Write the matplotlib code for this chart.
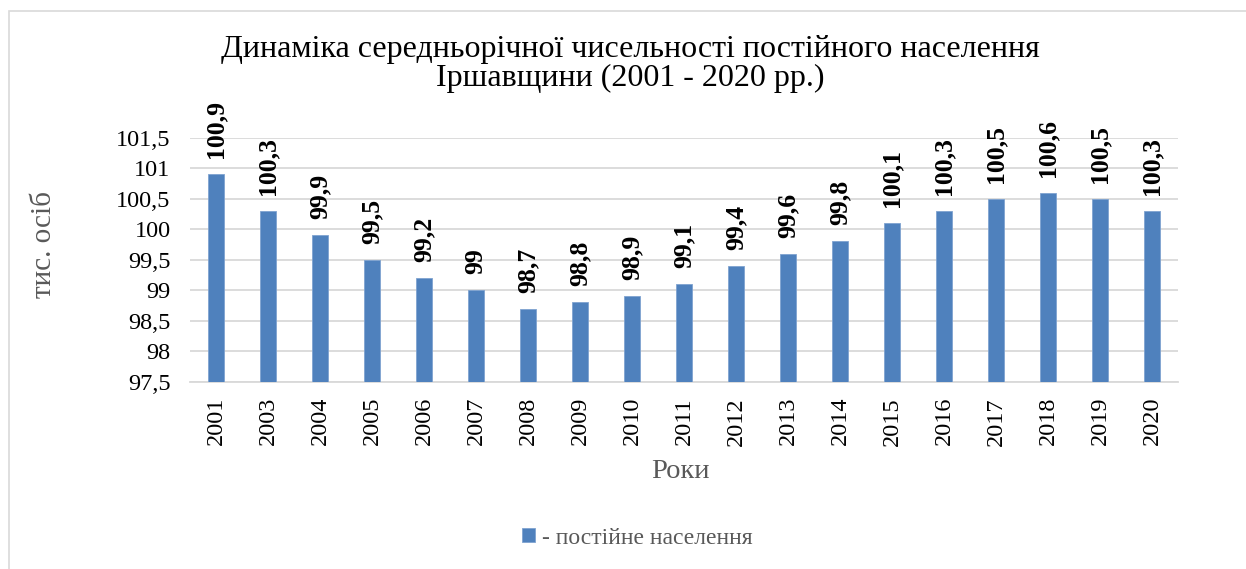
"""
Динаміка середньорічної чисельності постійного населення Іршавщини
"""
import matplotlib.pyplot as plt
from matplotlib.patches import Rectangle
from matplotlib.ticker import FuncFormatter

plt.rcParams['font.family'] = ['Liberation Serif', 'DejaVu Serif']

years = ['2001', '2003', '2004', '2005', '2006', '2007', '2008', '2009', '2010', '2011',
         '2012', '2013', '2014', '2015', '2016', '2017', '2018', '2019', '2020']
population = [100.9, 100.3, 99.9, 99.5, 99.2, 99.0, 98.7, 98.8, 98.9, 99.1,
              99.4, 99.6, 99.8, 100.1, 100.3, 100.5, 100.6, 100.5, 100.3]
y_ticks = [97.5, 98, 98.5, 99, 99.5, 100, 100.5, 101, 101.5]

BAR_COLOR = '#4F81BD'
GREY = '#595959'


def fmt_num(v):
    s = f"{v:g}"
    return s.replace('.', ',')


fig = plt.figure(figsize=(12.46, 5.69), dpi=100)
ax = fig.add_axes([190 / 1246, 1 - 381.7 / 569, (1178 - 190) / 1246, (381.7 - 137.7) / 569])

# frame around the whole chart
fig.patches.append(Rectangle((9 / 1246, -0.01), 1.02, 1 - 11 / 569 + 0.01,
                             transform=fig.transFigure, fill=False,
                             edgecolor='#D9D9D9', lw=1.2))

x = range(len(years))
bars = ax.bar(x, population, width=0.31, bottom=0, color=BAR_COLOR,
              edgecolor='#7FA3D0', lw=0.6, zorder=3)

for xi, v in zip(x, population):
    ax.annotate(fmt_num(v), (xi, v), xytext=(0, 11.5), textcoords='offset points',
                rotation=90, ha='center', va='bottom', fontsize=18.5,
                fontweight='bold', color='black', annotation_clip=False)

ax.set_ylim(97.5, 101.5)
ax.set_xlim(-0.5, len(years) - 0.5)
ax.set_yticks(y_ticks)
ax.yaxis.set_major_formatter(FuncFormatter(lambda v, p: fmt_num(v)))
ax.set_xticks(list(x))
ax.set_xticklabels(years, rotation=90)
ax.tick_params(axis='both', length=0, labelsize=17.5, colors='black')
ax.tick_params(axis='x', pad=11)
ax.tick_params(axis='y', pad=14)
ax.grid(axis='y', color='#D9D9D9', lw=1.3, zorder=0)
for sp in ['top', 'right', 'left']:
    ax.spines[sp].set_visible(False)
ax.spines['bottom'].set_color('#D9D9D9')
ax.spines['bottom'].set_linewidth(1.3)

fig.text(630 / 1246, 1 - 64 / 569,
         "Динаміка середньорічної чисельності постійного населення\nІршавщини (2001 - 2020 рр.)",
         ha='center', va='center', fontsize=23, color='black', linespacing=1.0)
fig.text(44 / 1246, 1 - 244 / 569, "тис. осіб", rotation=90, ha='center', va='center',
         fontsize=21, color=GREY)
fig.text(680 / 1246, 1 - 471 / 569, "Роки", ha='center', va='center',
         fontsize=20.5, color=GREY)

leg = fig.legend([bars], ["- постійне населення"], loc='center',
                 bbox_to_anchor=(637 / 1246, 1 - 538 / 569), frameon=False,
                 fontsize=17, handlelength=0.55, handleheight=0.55, handletextpad=0.3)
for t in leg.get_texts():
    t.set_color(GREY)

fig.savefig('out.png', dpi=100)
